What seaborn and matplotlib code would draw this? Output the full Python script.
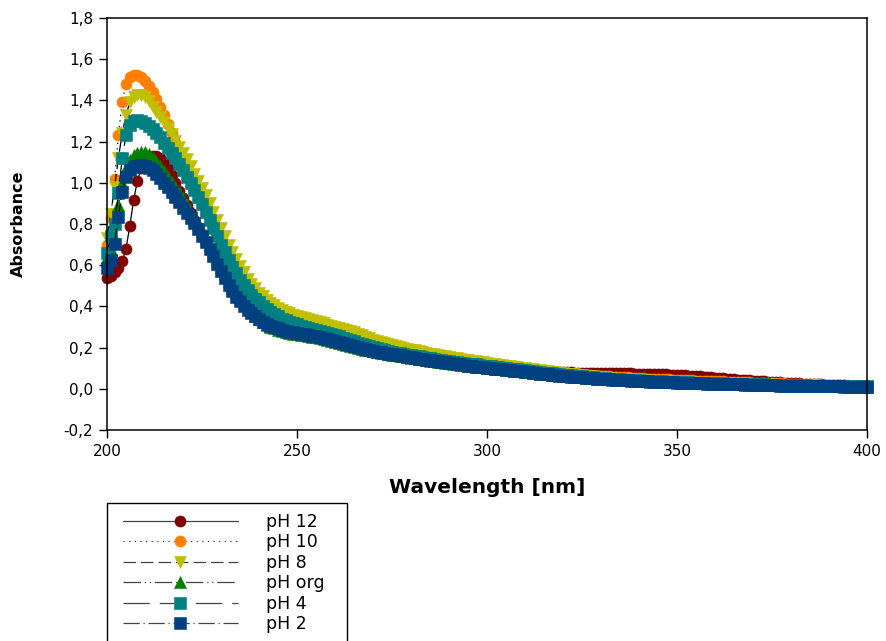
import matplotlib
matplotlib.use("Agg")
import matplotlib.pyplot as plt
import seaborn as sns
from matplotlib import ticker
from matplotlib.patches import Rectangle

# ---------------- data ----------------
wavelength = list(range(200, 401))

ph12 = [
    .54, .55, .565, .585, .62, .68, .79, .915, 1.01, 1.07,
    1.10, 1.12, 1.13, 1.13, 1.12, 1.10, 1.07, 1.04, 1.0, .96,
    .925, .89, .855, .82, .785, .75, .715, .68, .645, .61,
    .575, .542, .51, .48, .455, .432, .41, .39, .372, .357,
    .344, .332, .322, .313, .305, .298, .292, .287, .283, .279,
    .275, .272, .269, .266, .263, .26, .256, .252, .247, .242,
    .237, .232, .227, .222, .217, .212, .207, .202, .198, .194,
    .19, .186, .182, .179, .176, .173, .17, .167, .164, .161,
    .158, .155, .152, .149, .146, .143, .14, .138, .135, .133,
    .13, .128, .125, .123, .12, .118, .116, .114, .112, .11,
    .108, .106, .104, .102, .1, .099, .097, .096, .094, .093,
    .092, .09, .089, .088, .087, .086, .085, .084, .083, .082,
    .081, .08, .08, .079, .079, .078, .078, .077, .077, .077,
    .076, .076, .076, .076, .075, .075, .075, .075, .075, .074,
    .074, .074, .073, .073, .072, .071, .071, .07, .069, .068,
    .067, .066, .065, .064, .063, .061, .06, .059, .057, .056,
    .054, .053, .051, .05, .048, .047, .045, .044, .042, .041,
    .04, .038, .037, .036, .034, .033, .032, .031, .03, .029,
    .028, .027, .026, .025, .024, .023, .022, .021, .021, .02,
    .019, .019, .018, .018, .017, .016, .016, .015, .015, .014,
    .014,
]

ph10 = [
    .70, .83, 1.02, 1.23, 1.39, 1.48, 1.515, 1.525, 1.525, 1.515,
    1.495, 1.47, 1.44, 1.405, 1.37, 1.33, 1.285, 1.24, 1.195, 1.15,
    1.105, 1.06, 1.02, .98, .94, .90, .86, .82, .78, .74,
    .70, .665, .63, .595, .565, .535, .51, .485, .465, .445,
    .428, .413, .4, .388, .377, .367, .358, .35, .343, .336,
    .33, .325, .32, .315, .31, .305, .3, .295, .29, .285,
    .28, .275, .27, .265, .26, .255, .249, .243, .237, .231,
    .225, .22, .215, .21, .205, .2, .196, .192, .188, .184,
    .18, .176, .172, .168, .165, .162, .158, .155, .152, .149,
    .146, .143, .14, .137, .135, .132, .129, .127, .124, .122,
    .12, .117, .115, .112, .11, .107, .105, .102, .1, .098,
    .095, .093, .091, .089, .087, .085, .083, .081, .079, .077,
    .075, .074, .072, .071, .069, .068, .067, .065, .064, .063,
    .062, .061, .06, .059, .058, .057, .056, .055, .054, .053,
    .052, .051, .05, .05, .049, .048, .047, .046, .046, .045,
    .044, .043, .043, .042, .041, .04, .04, .039, .038, .038,
    .037, .036, .036, .035, .034, .034, .033, .032, .032, .031,
    .03, .03, .029, .029, .028, .027, .027, .026, .026, .025,
    .024, .024, .023, .023, .022, .022, .021, .021, .02, .02,
    .019, .019, .018, .018, .017, .017, .016, .016, .016, .015,
    .015,
]

ph8 = [
    .73, .85, .98, 1.12, 1.24, 1.33, 1.39, 1.415, 1.425, 1.425,
    1.415, 1.395, 1.37, 1.345, 1.32, 1.295, 1.265, 1.235, 1.205, 1.175,
    1.145, 1.115, 1.08, 1.045, 1.01, .975, .94, .90, .86, .82,
    .78, .74, .70, .665, .63, .595, .565, .535, .51, .487,
    .467, .449, .433, .418, .405, .393, .383, .374, .366, .359,
    .353, .347, .342, .337, .332, .327, .322, .317, .312, .307,
    .302, .297, .292, .286, .28, .274, .267, .26, .253, .246,
    .239, .233, .227, .221, .216, .211, .206, .202, .198, .194,
    .19, .186, .182, .178, .174, .17, .167, .163, .16, .157,
    .154, .151, .148, .145, .142, .139, .136, .133, .131, .128,
    .125, .122, .12, .117, .115, .112, .11, .107, .105, .102,
    .1, .097, .095, .092, .09, .087, .085, .082, .08, .078,
    .076, .074, .072, .07, .068, .066, .064, .062, .06, .058,
    .056, .054, .053, .051, .05, .049, .047, .046, .045, .044,
    .043, .042, .041, .04, .039, .038, .037, .036, .035, .035,
    .034, .033, .032, .032, .031, .03, .03, .029, .028, .028,
    .027, .027, .026, .026, .025, .025, .024, .024, .023, .023,
    .022, .022, .021, .021, .021, .02, .02, .019, .019, .019,
    .018, .018, .018, .017, .017, .017, .016, .016, .016, .015,
    .015, .015, .015, .014, .014, .014, .014, .013, .013, .013,
    .013,
]

ph_org = [
    .64, .68, .73, .89, 1.0, 1.07, 1.11, 1.135, 1.145, 1.15,
    1.15, 1.14, 1.125, 1.105, 1.08, 1.055, 1.03, 1.005, .98, .953,
    .925, .895, .865, .833, .80, .767, .732, .697, .662, .627,
    .592, .558, .525, .495, .468, .443, .42, .397, .374, .354,
    .337, .323, .312, .302, .294, .287, .281, .276, .272, .268,
    .265, .262, .259, .256, .253, .25, .246, .242, .238, .233,
    .228, .223, .218, .213, .208, .203, .198, .194, .19, .186,
    .182, .178, .175, .172, .169, .166, .163, .16, .157, .154,
    .151, .148, .145, .143, .14, .137, .134, .132, .129, .127,
    .124, .122, .12, .117, .115, .113, .11, .108, .106, .104,
    .102, .1, .098, .096, .094, .092, .09, .088, .086, .084,
    .082, .08, .078, .076, .074, .072, .07, .068, .067, .065,
    .063, .062, .06, .059, .057, .056, .054, .053, .052, .05,
    .049, .048, .047, .046, .045, .044, .043, .042, .041, .04,
    .039, .038, .037, .036, .036, .035, .034, .033, .032, .032,
    .031, .03, .03, .029, .028, .028, .027, .027, .026, .026,
    .025, .025, .024, .024, .023, .023, .022, .022, .021, .021,
    .02, .02, .019, .019, .019, .018, .018, .017, .017, .017,
    .016, .016, .016, .015, .015, .015, .014, .014, .014, .014,
    .013, .013, .013, .013, .012, .012, .012, .012, .012, .011,
    .011,
]

ph4 = [
    .66, .74, .80, .95, 1.12, 1.23, 1.28, 1.30, 1.305, 1.30,
    1.29, 1.275, 1.26, 1.24, 1.22, 1.195, 1.17, 1.145, 1.12, 1.09,
    1.06, 1.03, 1.0, .965, .93, .895, .86, .82, .78, .74,
    .70, .662, .626, .592, .56, .53, .503, .478, .456, .437,
    .42, .403, .388, .374, .362, .351, .341, .333, .326, .319,
    .313, .307, .302, .297, .292, .287, .282, .277, .272, .266,
    .26, .254, .248, .242, .236, .23, .224, .218, .212, .207,
    .202, .197, .192, .188, .184, .18, .176, .173, .17, .166,
    .163, .16, .157, .154, .151, .148, .145, .142, .14, .137,
    .135, .132, .13, .127, .125, .122, .12, .118, .115, .113,
    .111, .109, .107, .105, .102, .1, .098, .096, .094, .092,
    .09, .088, .085, .083, .081, .079, .077, .075, .073, .071,
    .069, .067, .065, .063, .062, .06, .058, .057, .055, .054,
    .052, .051, .05, .048, .047, .046, .045, .044, .043, .042,
    .041, .04, .039, .038, .037, .036, .036, .035, .034, .033,
    .033, .032, .031, .031, .03, .029, .029, .028, .028, .027,
    .027, .026, .026, .025, .025, .024, .024, .023, .023, .022,
    .022, .021, .021, .021, .02, .02, .019, .019, .019, .018,
    .018, .018, .017, .017, .017, .016, .016, .016, .015, .015,
    .015, .015, .014, .014, .014, .014, .013, .013, .013, .013,
    .012,
]

ph2 = [
    .585, .625, .705, .835, .955, 1.03, 1.06, 1.075, 1.083, 1.085,
    1.08, 1.072, 1.06, 1.043, 1.022, 1.0, .978, .955, .93, .905,
    .88, .855, .83, .803, .774, .743, .711, .678, .645, .608,
    .572, .538, .505, .475, .448, .424, .402, .383, .366, .351,
    .338, .326, .316, .307, .3, .293, .287, .282, .278, .274,
    .27, .267, .264, .261, .258, .255, .251, .247, .242, .237,
    .232, .227, .222, .217, .212, .207, .202, .197, .193, .189,
    .185, .181, .177, .174, .171, .168, .165, .162, .159, .156,
    .153, .15, .147, .144, .141, .138, .135, .133, .13, .128,
    .125, .123, .12, .118, .115, .113, .111, .108, .106, .104,
    .102, .1, .098, .096, .094, .092, .09, .088, .086, .084,
    .082, .08, .078, .076, .074, .072, .07, .068, .066, .064,
    .062, .061, .059, .058, .056, .055, .053, .052, .051, .049,
    .048, .047, .046, .045, .044, .043, .042, .041, .04, .039,
    .038, .037, .036, .035, .035, .034, .033, .032, .031, .031,
    .03, .029, .029, .028, .027, .027, .026, .026, .025, .025,
    .024, .024, .023, .023, .022, .022, .021, .021, .02, .02,
    .019, .019, .018, .018, .018, .017, .017, .016, .016, .016,
    .015, .015, .015, .014, .014, .014, .013, .013, .013, .013,
    .012, .012, .012, .012, .011, .011, .011, .011, .011, .01,
    .01,
]

series_labels = ["pH 12", "pH 10", "pH 8", "pH org", "pH 4", "pH 2"]
series_values = [ph12, ph10, ph8, ph_org, ph4, ph2]
marker_colors = ["#800000", "#FF8000", "#BFBF00", "#008000", "#008080", "#004080"]
marker_shapes = ["o", "o", "v", "^", "s", "s"]
line_styles = ["-", (0, (1, 3.5)), (0, (10, 4)), (0, (14, 3, 1, 3, 1, 3)),
               (0, (21, 8)), (0, (13, 3, 1, 3))]

x_ticks = [200, 250, 300, 350, 400]
y_ticks = [-0.2, 0.0, 0.2, 0.4, 0.6, 0.8, 1.0, 1.2, 1.4, 1.6, 1.8]

# ---------------- style ----------------
sns.set_theme(style="white")
plt.rcParams["font.family"] = ["DejaVu Sans"]

W, H = 887, 641
fig = plt.figure(figsize=(W / 100, H / 100), dpi=100)
ax = fig.add_axes([107 / W, 1 - 430 / H, 760 / W, 412 / H])

for lab, vals, col, mk, ls in zip(series_labels, series_values, marker_colors,
                                  marker_shapes, line_styles):
    sns.lineplot(x=wavelength, y=vals, ax=ax, estimator=None, errorbar=None,
                 sort=False, color="black", linewidth=0.9, linestyle=ls,
                 marker=mk, markersize=8, markerfacecolor=col,
                 markeredgecolor=col, markeredgewidth=0.4, label=lab,
                 clip_on=False)

ax.set_xlim(200, 400)
ax.set_ylim(-0.2, 1.8)
ax.set_xticks(x_ticks)
ax.set_yticks(y_ticks)
ax.xaxis.set_major_formatter(ticker.FuncFormatter(lambda v, p: f"{v:.0f}"))
ax.yaxis.set_major_formatter(
    ticker.FuncFormatter(lambda v, p: f"{v:.1f}".replace(".", ",").replace("-0,0", "0,0")))
ax.tick_params(axis="both", which="major", direction="out", length=6, width=1,
               color="black", labelsize=11, labelcolor="black", pad=4,
               bottom=True, left=True, top=False, right=False)
for sp in ax.spines.values():
    sp.set_visible(True)
    sp.set_color("black")
    sp.set_linewidth(1.1)
ax.grid(False)

ax.set_xlabel("Wavelength [nm]", fontsize=14.5, fontweight="bold", color="black")
ax.set_ylabel("Absorbance", fontsize=11.5, fontweight="bold", color="black")
ax.xaxis.set_label_coords(0.5, -0.116)
ax.yaxis.set_label_coords(-0.107, 0.5)

# legend (frame drawn separately so it can run past the bottom edge)
leg_fs = 12.5
leg = ax.legend(loc="upper left", bbox_to_anchor=(123 / W, 1 - 513 / H),
                bbox_transform=fig.transFigure, frameon=False, fontsize=leg_fs,
                handlelength=6.6, handletextpad=1.65, borderpad=0,
                labelspacing=0.14, numpoints=1, borderaxespad=0)
for h in leg.get_lines():
    h.set_color("#444444")
for t in leg.get_texts():
    t.set_color("black")

frame = Rectangle((107 / W, 1 - 648 / H), 240 / W, 145 / H,
                  transform=fig.transFigure, fill=False, edgecolor="black",
                  linewidth=1.0)
fig.add_artist(frame)

fig.savefig("out.png", dpi=100, facecolor="white")
